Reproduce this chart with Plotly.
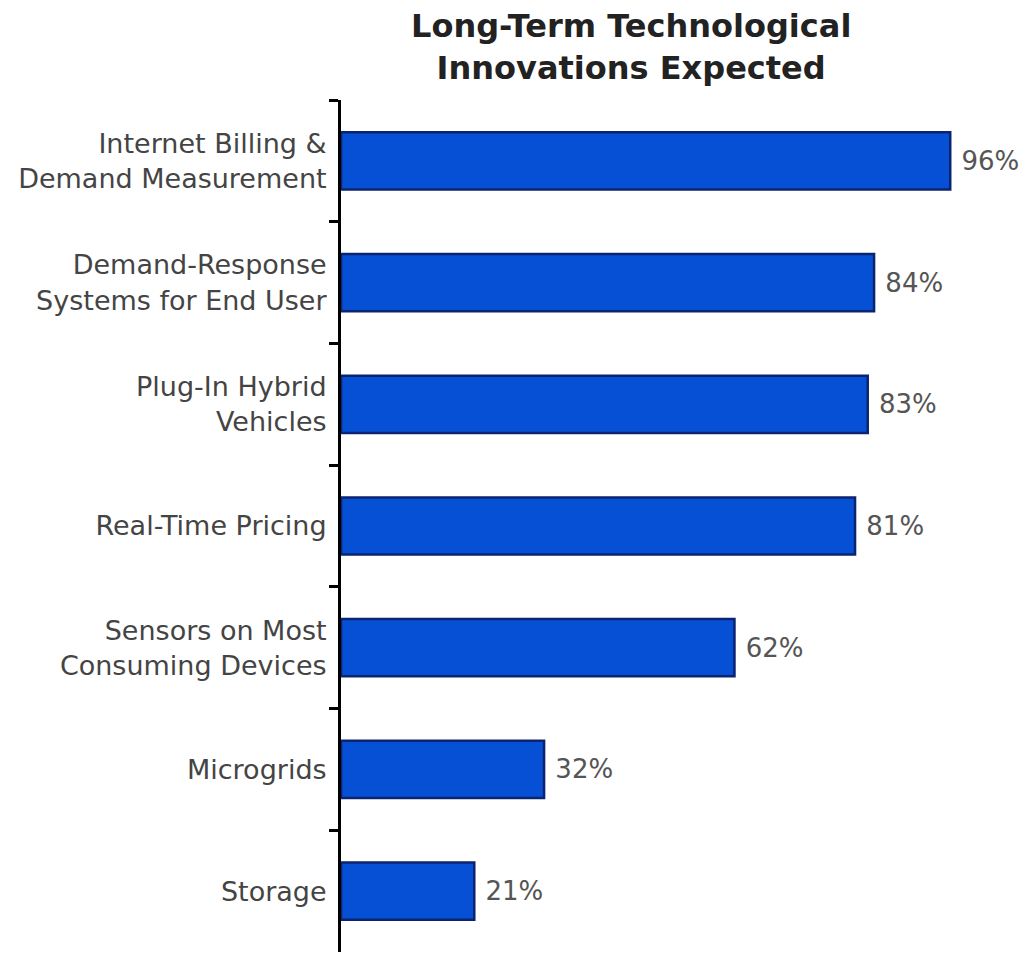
import plotly.graph_objects as go

categories = [
    "Internet Billing &<br>Demand Measurement",
    "Demand-Response<br>Systems for End User",
    "Plug-In Hybrid<br>Vehicles",
    "Real-Time Pricing",
    "Sensors on Most<br>Consuming Devices",
    "Microgrids",
    "Storage",
]
values = [96, 84, 83, 81, 62, 32, 21]
value_labels = [f" {v}%" for v in values]
title_text = "<b>Long-Term Technological<br>Innovations Expected</b>"

fig = go.Figure(go.Bar(
    x=values,
    y=categories,
    orientation="h",
    width=0.47,
    marker=dict(color="#0650d6", line=dict(color="#0c2470", width=2.5)),
    text=value_labels,
    textposition="outside",
    textfont=dict(family="DejaVu Sans", size=26, color="#555555"),
    cliponaxis=False,
))

fig.add_annotation(
    text=title_text,
    xref="paper", yref="paper",
    x=0.44, y=1.062,
    xanchor="center", yanchor="middle",
    showarrow=False,
    font=dict(family="DejaVu Sans", size=32, color="#222222"),
)

fig.update_layout(
    width=1025,
    height=954,
    margin=dict(l=341, r=24, t=100, b=2),
    paper_bgcolor="white",
    plot_bgcolor="white",
    showlegend=False,
    xaxis=dict(
        range=[0, 104],
        visible=False,
        showgrid=False,
        zeroline=False,
    ),
    yaxis=dict(
        type="category",
        autorange="reversed",
        showline=True,
        linecolor="black",
        linewidth=3,
        ticks="outside",
        tickson="boundaries",
        ticklen=9,
        tickwidth=3,
        tickcolor="black",
        showgrid=False,
        ticklabelstandoff=6,
        tickfont=dict(family="DejaVu Sans", size=27, color="#444444"),
    ),
)

fig.write_html("out.html")
